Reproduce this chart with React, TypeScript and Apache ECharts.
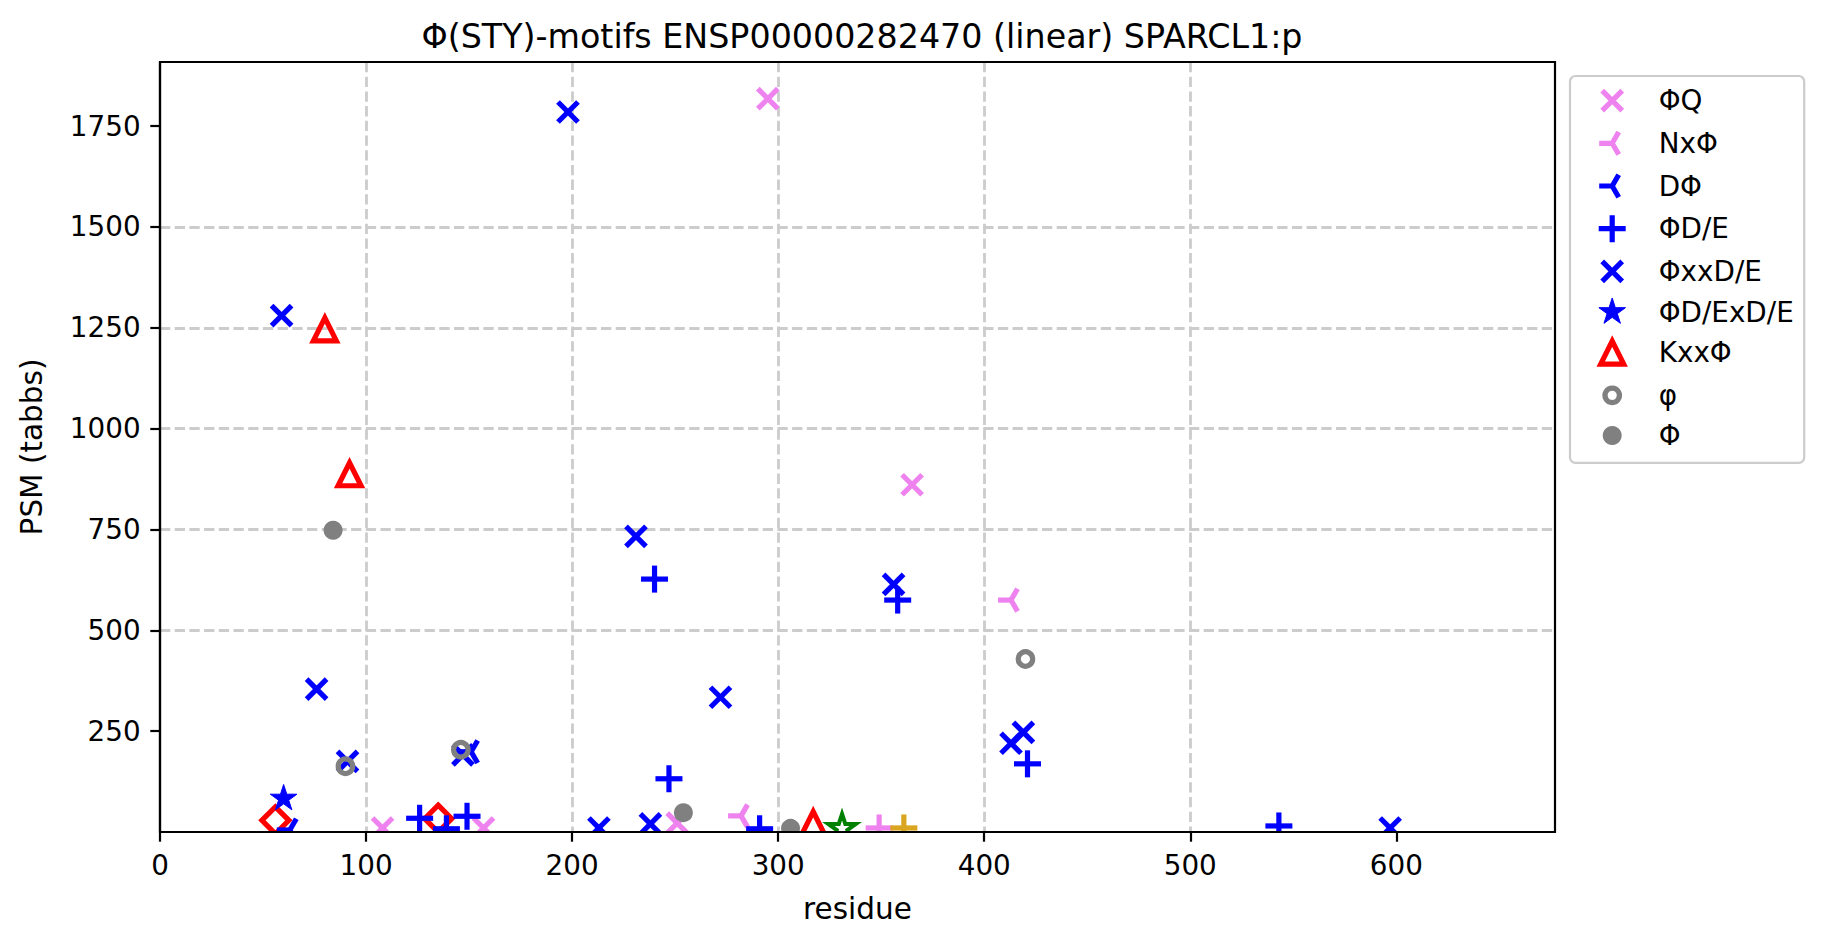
import React, { useEffect, useRef } from 'react';
import * as echarts from 'echarts';

const FONT = 'DejaVu Sans';
const TITLE = 'Φ(STY)-motifs ENSP00000282470 (linear) SPARCL1:p';
const X_NAME = 'residue';
const Y_NAME = 'PSM (tabbs)';
const X_TICKS = [0, 100, 200, 300, 400, 500, 600];
const Y_TICKS = [250, 500, 750, 1000, 1250, 1500, 1750];
const X_MAX = 677;
const Y_MAX = 1909;

// [residue, PSM]
const phiQ = [[295, 1818], [365, 861], [108, 10], [157, 10], [251, 22]];
const nxPhi = [[413, 575], [282, 40]];
const dPhi = [[151, 199], [63, 5]];
const phiDE = [[240, 627], [358, 575], [247, 132], [421, 169], [126, 34], [149, 39], [139, 8], [291, 8], [543, 15]];
const phiXXDE = [[198, 1785], [59, 1280], [231, 733], [356, 614], [76, 354], [272, 334], [419, 247], [413, 220], [91, 175], [147, 191], [213, 10], [238, 20], [597, 10]];
const phiDExDE = [[60, 83]];
const kxxPhi = [[80, 1246], [92, 887], [317, 22]];
const phiSmall = [[90, 163], [146, 204], [420, 429]];
const phiBig = [[84, 748], [254, 48], [306, 9]];
const otherDiamond = [[56, 29], [135, 33]];
const otherStar = [[331, 9]];
const otherPlusViolet = [[349, 10]];
const otherPlusGold = [[361, 10]];

const VIOLET = '#ee82ee';
const BLUE = '#0000ff';
const RED = '#ff0000';
const GRAY = '#808080';
const GREEN = '#008000';
const GOLD = '#daa520';
const LW = 5.2;

type Kind = 'x' | 'plus' | 'triLeft' | 'triangle' | 'diamond' | 'star' | 'starOpen' | 'circle' | 'ring';
interface SDef { name: string; data: number[][]; kind: Kind; color: string; legend: boolean; }

const SERIES: SDef[] = [
  { name: 'D-other', data: otherDiamond, kind: 'diamond', color: RED, legend: false },
  { name: 'star-other', data: otherStar, kind: 'starOpen', color: GREEN, legend: false },
  { name: 'plus-violet', data: otherPlusViolet, kind: 'plus', color: VIOLET, legend: false },
  { name: 'plus-gold', data: otherPlusGold, kind: 'plus', color: GOLD, legend: false },
  { name: 'ΦQ', data: phiQ, kind: 'x', color: VIOLET, legend: true },
  { name: 'NxΦ', data: nxPhi, kind: 'triLeft', color: VIOLET, legend: true },
  { name: 'DΦ', data: dPhi, kind: 'triLeft', color: BLUE, legend: true },
  { name: 'ΦD/E', data: phiDE, kind: 'plus', color: BLUE, legend: true },
  { name: 'ΦxxD/E', data: phiXXDE, kind: 'x', color: BLUE, legend: true },
  { name: 'ΦD/ExD/E', data: phiDExDE, kind: 'star', color: BLUE, legend: true },
  { name: 'KxxΦ', data: kxxPhi, kind: 'triangle', color: RED, legend: true },
  { name: 'φ', data: phiSmall, kind: 'ring', color: GRAY, legend: true },
  { name: 'Φ', data: phiBig, kind: 'circle', color: GRAY, legend: true },
];

const H_X = 10, H_PLUS = 13.5, L_TRI = 13, H_TRIANGLE = 11.5, H_DIAMOND = 13.5, R_STAR = 14, R_STAR_OPEN = 14.5, R_DOT = 9.5, R_RING = 7.25;

function starPts(cx: number, cy: number, R: number): number[][] {
  const pts: number[][] = [];
  for (let i = 0; i < 10; i++) {
    const a = -Math.PI / 2 + (i * Math.PI) / 5;
    const r = i % 2 === 0 ? R : R * 0.382;
    pts.push([cx + r * Math.cos(a), cy + r * Math.sin(a)]);
  }
  return pts;
}

function geom(kind: Kind, cx: number, cy: number): any {
  switch (kind) {
    case 'x':
      return { lines: [[cx - H_X, cy - H_X, cx + H_X, cy + H_X], [cx - H_X, cy + H_X, cx + H_X, cy - H_X]] };
    case 'plus':
      return { lines: [[cx - H_PLUS, cy, cx + H_PLUS, cy], [cx, cy - H_PLUS, cx, cy + H_PLUS]] };
    case 'triLeft':
      return {
        lines: [
          [cx, cy, cx - L_TRI, cy],
          [cx, cy, cx + 0.5 * L_TRI, cy - 0.866 * L_TRI],
          [cx, cy, cx + 0.5 * L_TRI, cy + 0.866 * L_TRI],
        ],
      };
    case 'triangle':
      return { poly: [[cx, cy - H_TRIANGLE], [cx - H_TRIANGLE, cy + H_TRIANGLE], [cx + H_TRIANGLE, cy + H_TRIANGLE]] };
    case 'diamond':
      return { poly: [[cx, cy - H_DIAMOND], [cx + H_DIAMOND, cy], [cx, cy + H_DIAMOND], [cx - H_DIAMOND, cy]] };
    case 'star':
      return { poly: starPts(cx, cy, R_STAR) };
    case 'starOpen':
      return { poly: starPts(cx, cy, R_STAR_OPEN) };
    case 'circle':
      return { circle: R_DOT };
    case 'ring':
      return { circle: R_RING };
  }
}

function isFilled(s: SDef) {
  return s.kind === 'circle' || s.kind === 'star';
}

function markerEls(s: SDef, cx: number, cy: number) {
  const g = geom(s.kind, cx, cy);
  const filled = isFilled(s);
  const lw = s.kind === 'starOpen' ? 4 : LW;
  const els: any[] = [];
  if (g.lines) {
    g.lines.forEach((l: number[]) =>
      els.push({ type: 'line', shape: { x1: l[0], y1: l[1], x2: l[2], y2: l[3] }, style: { stroke: s.color, lineWidth: lw, lineCap: 'butt' } })
    );
  }
  if (g.poly) {
    els.push({
      type: 'polygon',
      shape: { points: g.poly },
      style: { fill: filled ? s.color : 'none', stroke: s.color, lineWidth: filled ? 1 : lw, lineJoin: 'miter' },
    });
  }
  if (g.circle) {
    els.push({
      type: 'circle',
      shape: { cx, cy, r: g.circle },
      style: filled ? { fill: s.color, stroke: 'none' } : { fill: 'none', stroke: s.color, lineWidth: lw },
    });
  }
  return els;
}

const ICON = 30;
function iconPath(s: SDef) {
  const c = ICON / 2;
  const g = geom(s.kind, c, c);
  let d = `M0 0M${ICON} ${ICON}`;
  const f = (n: number) => n.toFixed(2);
  if (g.lines) g.lines.forEach((l: number[]) => { d += `M${f(l[0])} ${f(l[1])}L${f(l[2])} ${f(l[3])}`; });
  if (g.poly) {
    d += g.poly.map((p: number[], i: number) => `${i === 0 ? 'M' : 'L'}${f(p[0])} ${f(p[1])}`).join('') + 'Z';
  }
  if (g.circle) {
    const r = g.circle;
    d += `M${f(c)} ${f(c - r)}A${r} ${r} 0 1 1 ${f(c - 0.01)} ${f(c - r)}Z`;
  }
  return 'path://' + d;
}

function legendItemStyle(s: SDef) {
  if (s.kind === 'circle') return { color: s.color, borderColor: s.color, borderWidth: 0 };
  if (isFilled(s)) return { color: s.color, borderColor: s.color, borderWidth: 1 };
  return { color: 'transparent', borderColor: s.color, borderWidth: LW };
}

const gridLine = { color: '#cccccc', width: 2.8, type: [10.3, 4.4] as any };
const LABEL_FS = 27.8;
const NAME_FS = 29.5;

function buildOption(): any {
  return {
    animation: false,
    backgroundColor: '#ffffff',
    textStyle: { fontFamily: FONT },
    title: {
      text: TITLE,
      left: 857,
      top: 14.5,
      textAlign: 'center',
      textStyle: { fontFamily: FONT, fontSize: 33.3, fontWeight: 'normal', color: '#000' },
    },
    grid: {
      left: 160,
      right: 268,
      top: 62,
      bottom: 117,
      show: true,
      borderColor: '#000',
      borderWidth: 2.2,
      backgroundColor: 'transparent',
      containLabel: false,
      outerBoundsMode: 'none',
      z: 3,
    },
    legend: {
      show: true,
      orient: 'vertical',
      left: 1570,
      top: 76,
      padding: [7, 10.5, 12.5, 24.6],
      itemWidth: ICON,
      itemHeight: ICON,
      itemGap: 7.5,
      backgroundColor: 'rgba(255,255,255,0.8)',
      borderColor: '#cccccc',
      borderWidth: 2.2,
      borderRadius: 5.5,
      selectedMode: false,
      textStyle: { fontFamily: FONT, fontSize: LABEL_FS, color: '#000', padding: [0, 0, 0, 26.5] },
      data: SERIES.filter((s) => s.legend).map((s) => ({ name: s.name, icon: iconPath(s), itemStyle: legendItemStyle(s) })),
    },
    xAxis: {
      type: 'value',
      min: 0,
      max: X_MAX,
      interval: 100,
      name: X_NAME,
      nameLocation: 'middle',
      nameGap: 61.5,
      nameTextStyle: { fontFamily: FONT, fontSize: NAME_FS, color: '#000' },
      axisLine: { show: true, onZero: false, lineStyle: { color: '#000', width: 2.2 } },
      axisTick: { show: true, length: 9.7, lineStyle: { color: '#000', width: 2.2 }, customValues: X_TICKS },
      axisLabel: {
        margin: 19.4,
        fontFamily: FONT,
        fontSize: LABEL_FS,
        color: '#000',
        customValues: X_TICKS,
        formatter: (v: number) => (X_TICKS.includes(v) ? String(v) : ''),
      },
      splitLine: { show: true, showMinLine: false, showMaxLine: false, lineStyle: gridLine },
    },
    yAxis: {
      type: 'value',
      min: 0,
      max: Y_MAX,
      interval: 250,
      name: Y_NAME,
      nameLocation: 'middle',
      nameGap: 113,
      nameTextStyle: { fontFamily: FONT, fontSize: NAME_FS, color: '#000' },
      axisLine: { show: true, onZero: false, lineStyle: { color: '#000', width: 2.2 } },
      axisTick: { show: true, length: 9.7, lineStyle: { color: '#000', width: 2.2 }, customValues: Y_TICKS },
      axisLabel: {
        margin: 19.4,
        fontFamily: FONT,
        fontSize: LABEL_FS,
        color: '#000',
        customValues: Y_TICKS,
        formatter: (v: number) => (Y_TICKS.includes(v) ? String(v) : ''),
      },
      splitLine: { show: true, showMinLine: false, showMaxLine: false, lineStyle: gridLine },
    },
    series: SERIES.map((s) => ({
      type: 'custom',
      name: s.name,
      clip: true,
      encode: { x: 0, y: 1 },
      data: s.data,
      itemStyle: { color: s.color },
      renderItem: (params: any, api: any) => {
        const p = api.coord([api.value(0), api.value(1)]);
        return { type: 'group', children: markerEls(s, p[0], p[1]) };
      },
    })),
  };
}

export default function App() {
  const ref = useRef<HTMLDivElement>(null);
  useEffect(() => {
    document.body.style.margin = '0';
    const chart = echarts.init(ref.current as HTMLDivElement, null, { renderer: 'svg', width: 1823, height: 949 });
    chart.setOption(buildOption());
    return () => chart.dispose();
  }, []);
  return <div ref={ref} style={{ width: 1823, height: 949, position: 'absolute', left: 0, top: 0 }} />;
}
